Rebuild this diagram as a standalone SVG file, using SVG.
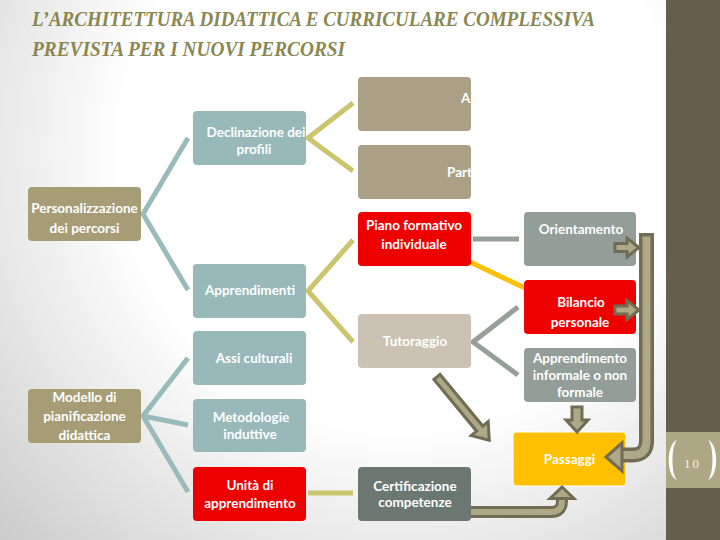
<svg xmlns="http://www.w3.org/2000/svg" width="720" height="540" viewBox="0 0 720 540">
<defs>
<radialGradient id="bg" cx="400" cy="150" r="560" gradientUnits="userSpaceOnUse">
<stop offset="0.5" stop-color="#ffffff"/>
<stop offset="1" stop-color="#cbcbcb"/>
</radialGradient>
<clipPath id="clipP"><rect x="358" y="145" width="113" height="54"/></clipPath>
<clipPath id="clipD"><rect x="193" y="111" width="113" height="54"/></clipPath>
<style>
.t{font-family:Lato,"Liberation Sans",sans-serif;font-weight:700;font-size:13.5px;fill:#ffffff;text-anchor:middle}
.title{font-family:"Liberation Serif",serif;font-weight:700;font-style:italic;font-size:22px;fill:#8A8751}
.teal{fill:#98B8B9}
.olive{fill:#A69D77}
.tan{fill:#AB9F86}
.ltan{fill:#CBC2B4}
.red{fill:#EE0000}
.grey{fill:#939E98}
.dgrey{fill:#6B7872}
.yel{fill:#FFC000;stroke:#ffffff;stroke-opacity:0.7;stroke-width:1.5}
.ln{fill:none;stroke-width:5;stroke-linejoin:miter}
.lteal{stroke:#9ABBBC}
.lol{stroke:#CCC56F}
.lgr{stroke:#95A09A}
.lye{stroke:#FFC000}
.ad{fill:none;stroke:#726C54}
.al{fill:none;stroke:#ADA886}
.ah{fill:#ADA886;stroke:#726C54;stroke-width:3;stroke-linejoin:miter}
</style>
</defs>
<rect x="0" y="0" width="720" height="540" fill="url(#bg)"/>
<g id="sidebar">
<rect x="666" y="0" width="54" height="540" fill="#665E4A"/>
<rect x="666" y="432" width="54" height="56" fill="#ADA784"/>
<path d="M677,440 C666,444 666,476 677,480 C671,474 671,446 677,440 Z" fill="#ffffff"/>
<path d="M708,440 C719,444 719,476 708,480 C714,474 714,446 708,440 Z" fill="#ffffff"/>
<text x="692.5" y="468" font-family="Liberation Serif, serif" font-size="13" fill="#F4F2E6" text-anchor="middle" letter-spacing="2">10</text>
</g>
<g id="title">
<text class="title" x="32" y="26" textLength="563" lengthAdjust="spacingAndGlyphs">L’ARCHITETTURA DIDATTICA E  CURRICULARE COMPLESSIVA</text>
<text class="title" x="32" y="56" textLength="313" lengthAdjust="spacingAndGlyphs">PREVISTA PER I NUOVI PERCORSI</text>
</g>
<g id="connectors">
<polyline class="ln lteal" points="188,138 143,214 188,290"/>
<polyline class="ln lteal" points="188,358 143,416 188,492"/>
<polyline class="ln lteal" points="143,416 188,425"/>
<polyline class="ln lol" points="353,103 308,138 353,171"/>
<polyline class="ln lol" points="353,240 308,291 353,342"/>
<polyline class="ln lol" points="308,493 353,493"/>
<polyline class="ln lgr" points="473,239 519,239"/>
<polyline class="ln lye" points="470,262 525,288"/>
<polyline class="ln lgr" points="518,307 473,342 518,375"/>
</g>
<g id="n-a"><rect class="tan" x="358" y="77" width="113" height="54" rx="4"/><text class="t" x="470.5" y="103" style="text-anchor:end">A</text></g>
<g id="n-part"><rect class="tan" x="358" y="145" width="113" height="54" rx="4"/><text class="t" x="447" y="177" style="text-anchor:start" clip-path="url(#clipP)">Part</text></g>
<g id="n-declinazione"><rect class="teal" x="193" y="111" width="113" height="54" rx="4"/><text class="t" clip-path="url(#clipD)"><tspan x="256" y="137">Declinazione dei</tspan><tspan x="254" y="154">profili</tspan></text></g>
<g id="n-personalizzazione"><rect class="olive" x="28" y="187" width="113" height="54" rx="4"/><text class="t"><tspan x="84.5" y="213">Personalizzazione</tspan><tspan x="84.5" y="233">dei percorsi</tspan></text></g>
<g id="n-piano"><rect class="red" x="358" y="212" width="113" height="54" rx="4"/><text class="t"><tspan x="414" y="230">Piano formativo</tspan><tspan x="414" y="249">individuale</tspan></text></g>
<g id="n-orientamento"><rect class="grey" x="524" y="212" width="112" height="54" rx="4"/><text class="t" x="581" y="234">Orientamento</text></g>
<g id="n-apprendimenti"><rect class="teal" x="193" y="264" width="113" height="54" rx="4"/><text class="t" x="250" y="295">Apprendimenti</text></g>
<g id="n-bilancio"><rect class="red" x="524" y="280" width="112" height="54" rx="4"/><text class="t"><tspan x="581" y="307">Bilancio</tspan><tspan x="580" y="327">personale</tspan></text></g>
<g id="n-tutoraggio"><rect class="ltan" x="358" y="314" width="113" height="54" rx="4"/><text class="t" x="415" y="346">Tutoraggio</text></g>
<g id="n-assi"><rect class="teal" x="193" y="331" width="113" height="54" rx="4"/><text class="t" x="254" y="363">Assi culturali</text></g>
<g id="n-apprinformale"><rect class="grey" x="524" y="348" width="112" height="54" rx="4"/><text class="t"><tspan x="580" y="363">Apprendimento</tspan><tspan x="580" y="380">informale o non</tspan><tspan x="580" y="397">formale</tspan></text></g>
<g id="n-modello"><rect class="olive" x="28" y="389" width="113" height="54" rx="4"/><text class="t"><tspan x="84.5" y="402">Modello di</tspan><tspan x="84.5" y="421">pianificazione</tspan><tspan x="84.5" y="440">didattica</tspan></text></g>
<g id="n-metodologie"><rect class="teal" x="193" y="399" width="113" height="53" rx="4"/><text class="t"><tspan x="251" y="422">Metodologie</tspan><tspan x="250" y="439">induttive</tspan></text></g>
<g id="n-passaggi"><rect class="yel" x="513" y="432" width="113" height="54" rx="4"/><text class="t" x="569.5" y="464">Passaggi</text></g>
<g id="n-unita"><rect class="red" x="193" y="467" width="113" height="54" rx="4"/><text class="t"><tspan x="250" y="490">Unità di</tspan><tspan x="250" y="508">apprendimento</tspan></text></g>
<g id="n-certificazione"><rect class="dgrey" x="358" y="467" width="113" height="54" rx="4"/><text class="t"><tspan x="415" y="491">Certificazione</tspan><tspan x="415" y="507">competenze</tspan></text></g>
<g id="arrows">
<polygon class="ah" points="615,243.5 627,243.5 627,238 639,247.5 627,257 627,251.5 615,251.5"/>
<polygon class="ah" points="615,306 627,306 627,300.5 639,310 627,319.5 627,314 615,314"/>
<path class="ad" stroke-width="15" d="M646.5,233 V441 Q646.5,455 632.5,455 H620"/>
<path class="al" stroke-width="8" d="M646.5,236.5 V441 Q646.5,455 632.5,455 H620"/>
<polygon class="ah" points="622,443 606,457 622,471"/>
<polygon class="ah" transform="translate(437,377) rotate(50.4)" points="0,-4 67,-4 67,-11 82,0 67,11 67,4 0,4"/>
<polygon class="ah" points="572,407 582,407 582,420 588,420 577,432 566,420 572,420"/>
<path class="ad" stroke-width="12" d="M471,512 H551 Q562,512 562,501 V497"/>
<path class="al" stroke-width="6" d="M471,512 H551 Q562,512 562,501 V497"/>
<polygon class="ah" points="550,498.5 562,487 574,498.5"/>
</g>
</svg>
